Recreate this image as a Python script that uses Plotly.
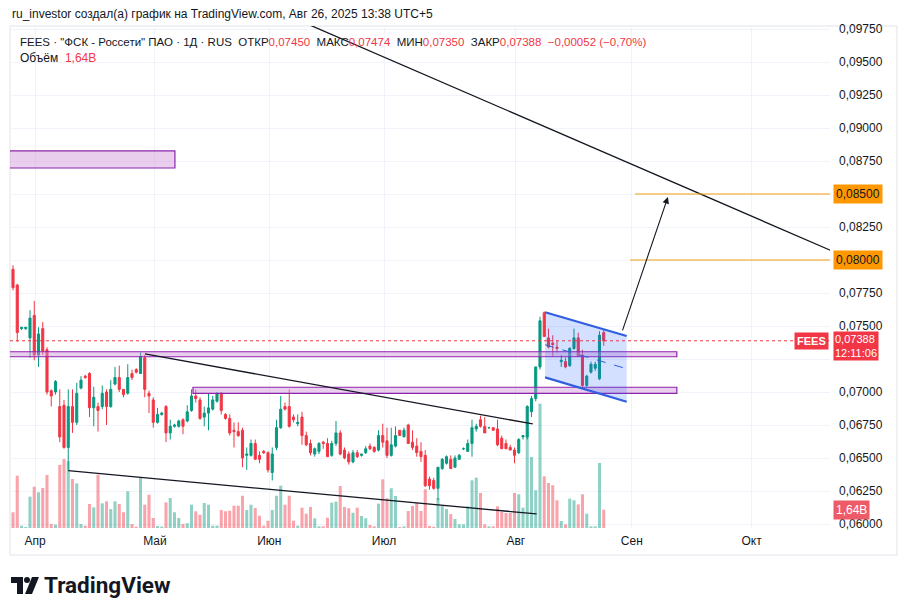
import plotly.graph_objects as go

# ---------------- data ----------------
opens = [0.0793,0.0781,0.0748,0.0748,0.0741,0.0758,0.0728,0.0748,0.0732,0.0701,
         0.0700,0.0689,0.0690,0.0658,0.0689,0.0677,0.0703,0.0712,0.0714,0.0688,
         0.0689,0.0689,0.0700,0.0689,0.0706,0.0711,0.0702,0.0699,0.0714,0.0717,
         0.0714,0.0726,0.0699,0.0694,0.0677,0.0683,0.0689,0.0669,0.0674,0.0674,
         0.0679,0.0678,0.0686,0.0697,0.0694,0.0681,0.0684,0.0687,0.0693,0.0699,
         0.0683,0.0680,0.0671,0.0670,0.0671,0.0652,0.0652,0.0661,0.0652,0.0655,
         0.0654,0.0639,0.0658,0.0673,0.0689,0.0689,0.0681,0.0676,0.0681,0.0667,
         0.0661,0.0653,0.0655,0.0662,0.0661,0.0652,0.0661,0.0669,0.0656,0.0653,
         0.0647,0.0654,0.0652,0.0654,0.0659,0.0658,0.0656,0.0667,0.0663,0.0652,
         0.0659,0.0671,0.0666,0.0675,0.0662,0.0659,0.0655,0.0652,0.0634,0.0633,
         0.0627,0.0642,0.0646,0.0649,0.0643,0.0649,0.0657,0.0655,0.0661,0.0672,
         0.0679,0.0674,0.0673,0.0673,0.0672,0.0665,0.0661,0.0658,0.0656,0.0654,
         0.0666,0.0666,0.0685,0.0695,0.0719,0.0760,0.0741,0.0737,0.0734,0.0723,
         0.0723,0.0720,0.0733,0.0741,0.0728,0.0705,0.0715,0.0718,0.0710,0.07450]
highs = [0.0796,0.0782,0.0749,0.0749,0.0762,0.0769,0.0749,0.0753,0.0734,0.0702,
         0.0709,0.0702,0.0694,0.0702,0.0702,0.0707,0.0712,0.0713,0.0715,0.0704,
         0.0692,0.0705,0.0702,0.0709,0.0719,0.0720,0.0702,0.0721,0.0717,0.0718,
         0.0730,0.0728,0.0701,0.0696,0.0688,0.0685,0.0690,0.0679,0.0676,0.0679,
         0.0680,0.0690,0.0702,0.0702,0.0696,0.0689,0.0699,0.0697,0.0700,0.0700,
         0.0684,0.0683,0.0677,0.0677,0.0673,0.0658,0.0664,0.0664,0.0655,0.0656,
         0.0655,0.0658,0.0679,0.0697,0.0692,0.0702,0.0683,0.0683,0.0685,0.0670,
         0.0664,0.0658,0.0662,0.0663,0.0665,0.0663,0.0678,0.0671,0.0658,0.0655,
         0.0656,0.0656,0.0653,0.0659,0.0661,0.0659,0.0671,0.0676,0.0673,0.0673,
         0.0674,0.0671,0.0673,0.0676,0.0671,0.0665,0.0662,0.0656,0.0636,0.0635,
         0.0643,0.0650,0.0652,0.0652,0.0652,0.0653,0.0658,0.0664,0.0679,0.0676,
         0.0682,0.0681,0.0673,0.0673,0.0679,0.0667,0.0664,0.0660,0.0658,0.0665,
         0.0667,0.0690,0.0697,0.0719,0.0757,0.0761,0.0748,0.0743,0.0739,0.0728,
         0.0726,0.0734,0.0748,0.0745,0.0732,0.0713,0.0723,0.0723,0.0746,0.07474]
lows = [0.0777,0.0738,0.0747,0.0747,0.0726,0.0724,0.0719,0.0728,0.0698,0.0689,
        0.0698,0.0662,0.0657,0.0641,0.0669,0.0675,0.0702,0.0710,0.0681,0.0674,
        0.0670,0.0687,0.0675,0.0688,0.0705,0.0700,0.0696,0.0698,0.0709,0.0714,
        0.0714,0.0696,0.0684,0.0673,0.0676,0.0682,0.0662,0.0664,0.0673,0.0673,
        0.0668,0.0677,0.0685,0.0692,0.0679,0.0674,0.0671,0.0686,0.0692,0.0683,
        0.0679,0.0667,0.0658,0.0666,0.0643,0.0641,0.0651,0.0649,0.0646,0.0653,
        0.0639,0.0633,0.0656,0.0672,0.0686,0.0673,0.0677,0.0674,0.0660,0.0659,
        0.0652,0.0651,0.0653,0.0657,0.0651,0.0651,0.0659,0.0652,0.0649,0.0645,
        0.0646,0.0650,0.0651,0.0653,0.0656,0.0654,0.0655,0.0658,0.0650,0.0651,
        0.0658,0.0667,0.0666,0.0661,0.0656,0.0651,0.0647,0.0628,0.0626,0.0626,
        0.0618,0.0641,0.0645,0.0642,0.0643,0.0649,0.0656,0.0655,0.0651,0.0670,
        0.0673,0.0669,0.0672,0.0671,0.0659,0.0657,0.0657,0.0656,0.0646,0.0653,
        0.0664,0.0664,0.0681,0.0693,0.0717,0.0742,0.0733,0.0727,0.0730,0.0719,
        0.0718,0.0719,0.0732,0.0727,0.0704,0.0704,0.0714,0.0716,0.0709,0.07350]
closes = [0.0779,0.0745,0.0749,0.0749,0.0756,0.0728,0.0744,0.0731,0.0700,0.0697,
          0.0708,0.0666,0.0658,0.0689,0.0677,0.0699,0.0709,0.0711,0.0688,0.0696,
          0.0686,0.0699,0.0689,0.0702,0.0711,0.0702,0.0698,0.0711,0.0711,0.0715,
          0.0727,0.0702,0.0697,0.0677,0.0683,0.0684,0.0669,0.0674,0.0675,0.0678,
          0.0674,0.0685,0.0697,0.0695,0.0680,0.0684,0.0688,0.0694,0.0699,0.0686,
          0.0680,0.0669,0.0670,0.0667,0.0650,0.0653,0.0661,0.0649,0.0649,0.0654,
          0.0641,0.0653,0.0673,0.0687,0.0687,0.0674,0.0679,0.0677,0.0667,0.0660,
          0.0654,0.0657,0.0661,0.0661,0.0651,0.0661,0.0669,0.0653,0.0650,0.0647,
          0.0654,0.0651,0.0653,0.0657,0.0657,0.0655,0.0667,0.0662,0.0652,0.0660,
          0.0667,0.0667,0.0671,0.0661,0.0658,0.0654,0.0651,0.0629,0.0629,0.0627,
          0.0643,0.0649,0.0651,0.0642,0.0650,0.0652,0.0657,0.0661,0.0673,0.0674,
          0.0674,0.0669,0.0673,0.0671,0.0660,0.0657,0.0657,0.0656,0.0652,0.0664,
          0.0667,0.0689,0.0695,0.0719,0.0754,0.0742,0.0734,0.0736,0.0733,0.0724,
          0.0719,0.0733,0.0741,0.0727,0.0705,0.0712,0.0721,0.0721,0.0743,0.07388]
volumes_b = [1.41,4.69,0.21,0.09,2.81,3.70,3.20,3.58,4.75,0.36,
             0.30,5.65,6.18,6.00,4.39,4.00,0.36,0.21,2.15,1.85,
             4.78,2.21,2.39,1.70,2.39,2.15,1.41,3.29,0.36,0.12,
             4.48,2.09,2.98,0.90,0.18,0.13,2.30,2.69,1.41,0.90,
             0.36,0.42,2.09,1.50,1.19,2.24,2.09,0.21,0.21,1.61,
             1.50,1.55,2.00,2.00,2.89,1.61,2.09,1.79,1.10,0.21,
             0.65,1.61,2.89,3.79,2.09,2.89,0.65,0.21,1.82,1.28,
             1.88,0.87,0.15,0.15,0.92,2.27,2.36,3.76,1.88,1.77,
             1.37,1.82,1.08,0.87,0.27,0.15,2.18,4.36,2.66,3.56,
             2.87,0.09,0.15,1.52,1.97,2.27,1.52,3.47,0.18,0.12,
             2.69,1.97,1.70,1.25,0.81,0.33,0.33,1.94,4.27,4.51,
             3.14,0.33,0.15,0.15,1.94,1.43,1.34,1.34,3.14,3.02,
             1.82,8.31,6.36,3.38,11.14,4.63,4.03,3.83,2.48,0.63,
             0.33,2.63,2.48,2.12,3.02,1.28,0.15,0.15,5.83,1.64]

month_labels = ["Апр", "Май", "Июн", "Июл", "Авг", "Сен", "Окт"]
month_pos = [5.2, 33.4, 60.3, 87.3, 118.3, 145.6, 173.8]
price_ticks = [0.0600, 0.0625, 0.0650, 0.0675, 0.0700, 0.0725, 0.0750, 0.0775,
               0.0800, 0.0825, 0.0850, 0.0875, 0.0900, 0.0925, 0.0950, 0.0975]
hidden_ticks = [0.0725, 0.0800, 0.0850]   # covered by price-scale labels in the picture
price_labels = ["" if v in hidden_ticks else f"{v:.5f}".replace(".", ",") for v in price_ticks]

# drawings (index, price)
zones = [(-5, 38.1, 0.08697, 0.08826), (-5, 156.2, 0.07267, 0.07305), (42.35, 156.2, 0.06990, 0.07036)]
trend_lines = [((31.06, 0.07288), (122.3, 0.06758)),
               ((13.0, 0.06404), (123.2, 0.06076)),
               ((60.0, 0.09917), (192.6, 0.08070))]
target_levels = [(146.4, 0.0850), (145.2, 0.0800)]
channel_up = ((125.2, 0.07604), (144.4, 0.07424))
channel_mid = ((125.2, 0.07358), (144.4, 0.07176))
channel_dn = ((125.2, 0.07111), (144.4, 0.06926))
arrow = ((143.3, 0.07455), (154.1, 0.08477))
last_price = closes[-1]
last_vol = volumes_b[-1]

UP, DN = "#089981", "#f23645"
x = list(range(len(opens)))
vol_colors = ["rgba(8,153,129,0.45)" if c >= o else "rgba(242,54,69,0.45)" for o, c in zip(opens, closes)]

# plot area in pixels: left 10, right 830, top 26, bottom 528
L, R, T, B = 10, 830, 26, 528
def px(xp):
    return (xp - L) / (R - L)
def py(yp):
    return (B - yp) / (B - T)

fig = go.Figure()
fig.add_trace(go.Bar(x=x, y=volumes_b, marker=dict(color=vol_colors, line=dict(width=0)),
                     width=0.72, yaxis="y", hoverinfo="skip"))
fig.add_trace(go.Candlestick(x=x, open=opens, high=highs, low=lows, close=closes, yaxis="y2",
                             increasing=dict(line=dict(color=UP, width=1), fillcolor=UP),
                             decreasing=dict(line=dict(color=DN, width=1), fillcolor=DN),
                             whiskerwidth=0))

shapes = []
# chart frame
shapes.append(dict(type="rect", xref="paper", yref="paper", x0=0, x1=px(897), y0=py(555), y1=1,
                   line=dict(color="#e0e3eb", width=1), fillcolor="rgba(0,0,0,0)", layer="below"))
for (x0, x1, y0, y1) in zones:
    shapes.append(dict(type="rect", xref="x", yref="y2", x0=x0, x1=x1, y0=y0, y1=y1,
                       line=dict(color="#8e24aa", width=1.2), fillcolor="rgba(206,147,216,0.45)", layer="above"))
for (a, b) in trend_lines:
    shapes.append(dict(type="line", xref="x", yref="y2", x0=a[0], y0=a[1], x1=b[0], y1=b[1],
                       line=dict(color="#131722", width=1.3), layer="above"))
for (xs, lv) in target_levels:
    shapes.append(dict(type="line", xref="x", yref="y2", x0=xs, x1=200, y0=lv, y1=lv,
                       line=dict(color="#f2a012", width=1.2), layer="above"))
(a, b), (c, d) = channel_up, channel_dn
shapes.append(dict(type="path", xref="x", yref="y2",
                   path=f"M {a[0]},{a[1]} L {b[0]},{b[1]} L {d[0]},{d[1]} L {c[0]},{c[1]} Z",
                   fillcolor="rgba(41,98,255,0.2)", line=dict(width=0), layer="above"))
for seg in (channel_up, channel_dn):
    shapes.append(dict(type="line", xref="x", yref="y2", x0=seg[0][0], y0=seg[0][1], x1=seg[1][0], y1=seg[1][1],
                       line=dict(color="#2f5ee0", width=2.2), layer="above"))
shapes.append(dict(type="line", xref="x", yref="y2", x0=channel_mid[0][0], y0=channel_mid[0][1],
                   x1=channel_mid[1][0], y1=channel_mid[1][1], line=dict(color="#2f5ee0", width=1, dash="dash"), layer="above"))
shapes.append(dict(type="line", xref="paper", yref="y2", x0=0, x1=1, y0=last_price, y1=last_price,
                   line=dict(color=DN, width=1, dash="dot"), layer="above"))
# TradingView logo icon
shapes.append(dict(type="path", xref="paper", yref="paper",
                   path=f"M {px(11)},{py(577)} L {px(23)},{py(577)} L {px(23)},{py(594)} L {px(17)},{py(594)} L {px(17)},{py(583)} L {px(11)},{py(583)} Z",
                   fillcolor="#131722", line=dict(width=0)))
shapes.append(dict(type="circle", xref="paper", yref="paper", x0=px(24), x1=px(30), y0=py(583), y1=py(577),
                   fillcolor="#131722", line=dict(width=0)))
shapes.append(dict(type="path", xref="paper", yref="paper",
                   path=f"M {px(32)},{py(577)} L {px(39)},{py(577)} L {px(32)},{py(594)} L {px(25)},{py(594)} Z",
                   fillcolor="#131722", line=dict(width=0)))

F = "Liberation Sans, Arial, sans-serif"
annotations = []
annotations.append(dict(xref="paper", yref="paper", x=px(10), y=py(14), xanchor="left", yanchor="middle",
                        text="ru_investor создал(а) график на TradingView.com, Авг 26, 2025 13:38 UTC+5",
                        showarrow=False, font=dict(family=F, size=12, color="#131722")))
red = lambda s: f'<span style="color:#f23645">{s}</span>'
nb = "\u00a0"
legend_txt = (f'FEES · "ФСК - Россети" ПАО · 1Д · RUS{nb}{nb}ОТКР{red("0,07450")}{nb}{nb}МАКС{red("0,07474")}'
              f'{nb}{nb}МИН{red("0,07350")}{nb}{nb}ЗАКР{red("0,07388")}{nb}{nb}{red("−0,00052 (−0,70%)")}')
annotations.append(dict(xref="paper", yref="paper", x=px(18), y=py(42), xanchor="left", yanchor="middle",
                        text=legend_txt, showarrow=False, font=dict(family=F, size=11.5, color="#131722")))
annotations.append(dict(xref="paper", yref="paper", x=px(18), y=py(58), xanchor="left", yanchor="middle",
                        text=f"Объём{nb}{nb}{red('1,64B')}", showarrow=False, font=dict(family=F, size=12, color="#131722")))
annotations.append(dict(xref="paper", yref="paper", x=px(42), y=py(585), xanchor="left", yanchor="middle",
                        text="<b>TradingView</b>", showarrow=False, font=dict(family="Roboto, Arial", size=22.5, color="#131722")))
# arrow
annotations.append(dict(xref="x", yref="y2", axref="x", ayref="y2", x=arrow[1][0], y=arrow[1][1],
                        ax=arrow[0][0], ay=arrow[0][1], text="", showarrow=True, arrowhead=2, arrowsize=1.2,
                        arrowwidth=1.1, arrowcolor="#131722"))
# price scale labels
for (xs, lv) in target_levels:
    annotations.append(dict(xref="paper", yref="y2", x=px(833), y=lv, xanchor="left", yanchor="middle",
                            text=f"{lv:.5f}".replace(".", ","), showarrow=False, bgcolor="#ff9800",
                            font=dict(family=F, size=12, color="#131722"), borderpad=2))
annotations.append(dict(xref="paper", yref="y2", x=px(833), y=last_price, xanchor="left", yanchor="middle", yshift=-5,
                        text=f"{last_price:.5f}".replace(".", ",") + "<br>12:11:06", showarrow=False, bgcolor=DN,
                        font=dict(family=F, size=11, color="white"), borderpad=1, align="left"))
annotations.append(dict(xref="paper", yref="y2", x=px(829), y=last_price, xanchor="right", yanchor="middle",
                        text="<b>FEES</b>", showarrow=False, bgcolor=DN,
                        font=dict(family=F, size=11, color="white"), borderpad=2))
annotations.append(dict(xref="paper", yref="y", x=px(833), y=last_vol, xanchor="left", yanchor="middle",
                        text=f"{last_vol:.2f}B".replace(".", ","), showarrow=False, bgcolor="#ee5b68",
                        font=dict(family=F, size=12, color="white"), borderpad=2))

fig.update_layout(
    width=908, height=616, margin=dict(l=L, r=908 - R, t=T, b=616 - B),
    paper_bgcolor="white", plot_bgcolor="white", showlegend=False,
    shapes=shapes, annotations=annotations,
    xaxis=dict(range=[-0.706, 192.24], tickvals=month_pos, ticktext=month_labels, showgrid=True,
               gridcolor="#f0f3fa", zeroline=False, rangeslider=dict(visible=False), ticks="",
               tickfont=dict(family=F, size=12, color="#131722"), ticklabelstandoff=4, showline=False),
    yaxis=dict(range=[0, 44.98], visible=False, showgrid=False, zeroline=False),
    yaxis2=dict(overlaying="y", side="right", range=[0.059697, 0.097727], tickvals=price_ticks,
                ticktext=price_labels, showgrid=True, gridcolor="#f0f3fa", zeroline=False, ticks="",
                tickfont=dict(family=F, size=12, color="#131722"), ticklabelstandoff=8, showline=False),
)
fig.write_html("out.html")
